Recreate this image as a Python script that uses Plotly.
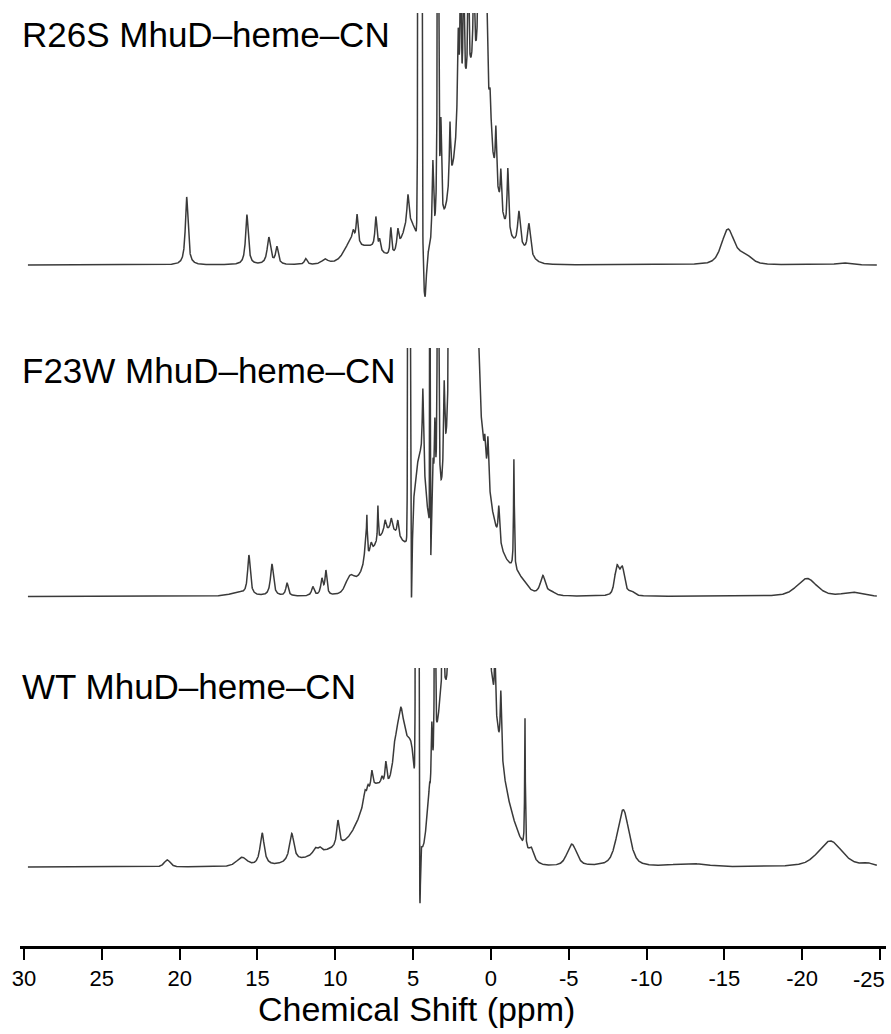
import numpy as np
import plotly.graph_objects as go

# ---------------------------------------------------------------------------
# 1H NMR spectra of the cyanide adducts.  Each spectrum is stored as its list
# of resolved resonances: centre (ppm), height (a.u., baseline = 0),
# full width at half height (ppm) and line shape
# ('L' Lorentzian, 'G' Gaussian envelope, 'V' pseudo-Voigt).
# ---------------------------------------------------------------------------

ppm_start, ppm_stop = 29.75, -24.8

r26s_center = [1.15, 8.0, 9.1, 5.2, -1.8,
               19.55, 15.68, 14.27, 13.75, 11.9, 10.67, 8.85, 8.6, 7.39, 7.15,
               6.43, 5.98, 5.33, 4.56, 4.24, 3.73, 3.4, 3.21, 2.63, 2.1,
               1.95, 1.75, 1.45, 1.1, 0.8, 0.55, 0.3, 0.05, -0.32, -0.64,
               -1.09, -1.8, -2.44, -15.23, -16.3, -22.6]
r26s_height = [185, 18, 10, 40, 12,
               68, 50, 27, 17, 6, 5, 12, 30, 32, 10,
               28, 20, 30, 2500, -45, 85, 800, 95, 65, 95,
               150, 150, 120, 100, 100, 150, 120, 40, 55, 40,
               65, 35, 32, 35, 9, 2]
r26s_fwhm = [2.55, 2.5, 0.8, 1.2, 1.5,
             0.2, 0.2, 0.25, 0.2, 0.2, 0.5, 0.2, 0.15, 0.15, 0.12,
             0.12, 0.15, 0.15, 0.15, 0.2, 0.12, 0.06, 0.1, 0.1, 0.12,
             0.08, 0.08, 0.08, 0.1, 0.1, 0.3, 0.15, 0.15, 0.1, 0.1,
             0.12, 0.2, 0.22, 0.95, 1.0, 1.0]
r26s_shape = ['G', 'G', 'G', 'G', 'G',
              'L', 'L', 'L', 'L', 'L', 'L', 'L', 'L', 'L', 'L',
              'L', 'L', 'L', 'G', 'G', 'L', 'L', 'L', 'L', 'L',
              'L', 'L', 'L', 'L', 'L', 'L', 'L', 'L', 'L', 'L',
              'L', 'L', 'L', 'V', 'V', 'V']

f23w_center = [1.6, -0.9, -1.8, 6.5, 9.06, 4.55, 5.26, 5.11, 3.92, 3.86,
               16.3, 15.55, 14.07, 13.1, 11.44, 10.86, 10.6, 8.05, 7.97, 7.7,
               7.26, 6.8, 6.4, 5.98, 4.37, 3.72, 3.6, 3.4, 3.0, 2.63,
               2.3, 1.9, 1.2, 0.85, 0.39, 0.19, -0.51, -1.48, -3.34, -3.9,
               -8.1, -8.45, -9.0, -20.3, -23.2]
f23w_height = [230, 18, 10, 65, 12, 110, 2500, -82, 1000, -36,
               4, 40, 32, 13, 9, 16, 24, 20, 35, 10,
               35, 12, 12, 15, 80, 60, 90, 800, 90, 500,
               100, 100, 100, 80, 20, 45, 35, 110, 20, 3,
               28, 26, 4, 18, 4]
f23w_fwhm = [2.6, 1.8, 1.2, 3.0, 0.6, 0.9, 0.1, 0.12, 0.03, 0.06,
             1.0, 0.2, 0.22, 0.18, 0.2, 0.18, 0.15, 0.2, 0.06, 0.15,
             0.06, 0.15, 0.15, 0.12, 0.1, 0.12, 0.1, 0.06, 0.1, 0.1,
             0.3, 0.3, 0.3, 0.2, 0.08, 0.1, 0.12, 0.06, 0.4, 0.5,
             0.35, 0.35, 0.5, 1.5, 1.2]
f23w_shape = ['G', 'G', 'G', 'G', 'G', 'G', 'G', 'G', 'G', 'G',
              'L', 'L', 'L', 'L', 'L', 'L', 'L', 'L', 'L', 'L',
              'L', 'L', 'L', 'L', 'L', 'L', 'L', 'L', 'L', 'L',
              'L', 'L', 'L', 'L', 'L', 'L', 'L', 'L', 'L', 'L',
              'V', 'V', 'V', 'V', 'V']

wt_center = [1.0, -1.5, 7.2, 9.5, 5.75, 5.05, 3.2, 4.74, 4.56, -12.8,
             20.8, 16.0, 14.7, 12.8, 11.3, 11.0, 9.83, 8.1, 7.9, 7.65,
             7.0, 6.75, 6.17, 5.78, 4.1, 3.95, 3.8, 3.6, 3.08, 2.76,
             2.4, 1.8, 1.0, 0.3, -0.26, -0.64, -2.19, -2.6, -5.2, -8.5,
             -21.8, -24.2]
wt_height = [260, 15, 72, 18, 115, 75, 110, 2500, -66, 3,
             7, 9, 33, 29, 6, 5, 26, 12, 8, 18,
             8, 25, 8, 12, 20, 25, 70, 400, 300, 30,
             100, 80, 50, 60, 60, 65, 130, 12, 22, 57,
             26, 2.5]
wt_fwhm = [2.8, 1.5, 2.4, 4.5, 1.0, 0.6, 1.0, 0.12, 0.07, 2.5,
           0.45, 0.8, 0.32, 0.35, 0.3, 0.3, 0.2, 0.2, 0.15, 0.15,
           0.15, 0.15, 0.12, 0.3, 0.3, 0.12, 0.1, 0.05, 0.05, 0.1,
           0.4, 0.5, 0.5, 0.3, 0.08, 0.1, 0.05, 0.4, 0.72, 0.9,
           1.8, 0.8]
wt_shape = ['G', 'G', 'G', 'G', 'G', 'G', 'G', 'G', 'G', 'G',
            'V', 'V', 'L', 'L', 'L', 'L', 'L', 'L', 'L', 'L',
            'L', 'L', 'L', 'L', 'L', 'L', 'L', 'L', 'L', 'L',
            'L', 'L', 'L', 'L', 'L', 'L', 'L', 'L', 'V', 'V',
            'V', 'V']

sample_names = ['R26S MhuD\u2013heme\u2013CN',
                'F23W MhuD\u2013heme\u2013CN',
                'WT MhuD\u2013heme\u2013CN']

tick_ppm = [30, 25, 20, 15, 10, 5, 0, -5, -10, -15, -20, -25]
tick_labels = ['30', '25', '20', '15', '10', '5', '0',
               '-5', '-10', '-15', '-20', '-25']


def line_shape(ppm, centre, height, fwhm, kind):
    d2 = ((ppm - centre) / (fwhm / 2.0)) ** 2
    lor = 1.0 / (1.0 + d2)
    gau = np.exp(-np.log(2.0) * d2)
    if kind == 'L':
        return height * lor
    if kind == 'G':
        return height * gau
    return height * (0.5 * lor + 0.5 * gau)


def spectrum(ppm, centres, heights, widths, shapes):
    total = np.zeros_like(ppm)
    for c, h, w, k in zip(centres, heights, widths, shapes):
        total += line_shape(ppm, c, h, w, k)
    return total


ppm = np.linspace(ppm_start, ppm_stop, 12000)
spectra = [
    spectrum(ppm, r26s_center, r26s_height, r26s_fwhm, r26s_shape),
    spectrum(ppm, f23w_center, f23w_height, f23w_fwhm, f23w_shape),
    spectrum(ppm, wt_center, wt_height, wt_fwhm, wt_shape),
]

font_family = 'Liberation Sans, Arial, Helvetica, sans-serif'
line_color = '#3a3a3a'
tick_font = dict(family=font_family, size=22, color='black')

fig = go.Figure()
for i, y in enumerate(spectra):
    fig.add_trace(go.Scatter(
        x=ppm, y=y, mode='lines',
        xaxis='x', yaxis='y' if i == 0 else 'y%d' % (i + 1),
        line=dict(color=line_color, width=1.5),
        hoverinfo='skip', showlegend=False,
    ))

hidden_y = dict(visible=False, showgrid=False, zeroline=False,
                anchor='x', fixedrange=True)

# the outermost label would run past the right edge, so it is drawn
# separately and nudged inwards
edge_label = tick_labels[-1]
tick_text = tick_labels[:-1] + ['']

fig.update_layout(
    width=891, height=1034,
    margin=dict(l=20, r=5, t=0, b=88),
    paper_bgcolor='white', plot_bgcolor='white',
    showlegend=False,
    xaxis=dict(
        range=[30.26, -25.39], domain=[0, 1], anchor='y3',
        tickmode='array', tickvals=tick_ppm, ticktext=tick_text,
        ticks='outside', ticklen=11, tickwidth=2, tickcolor='black',
        showline=True, linewidth=2.5, linecolor='black',
        showgrid=False, zeroline=False, automargin=False,
        tickfont=tick_font,
    ),
    yaxis=dict(domain=[0.67230, 0.98626], range=[-45, 252], **hidden_y),
    yaxis2=dict(domain=[0.34461, 0.63214], range=[-23.5, 248.5], **hidden_y),
    yaxis3=dict(domain=[0.0, 0.29387], range=[-79, 199], **hidden_y),
)

fig.add_annotation(
    text=edge_label, xref='x', yref='paper', x=tick_ppm[-1], y=0,
    xanchor='center', yanchor='middle', xshift=-11, yshift=-33,
    showarrow=False, font=tick_font,
)

label_y = [0.964, 0.608, 0.274]
for name, yy in zip(sample_names, label_y):
    fig.add_annotation(
        text=name, xref='paper', yref='paper', x=0.0, y=yy,
        xanchor='left', yanchor='middle', showarrow=False,
        font=dict(family=font_family, size=35, color='black'),
    )

fig.add_annotation(
    text='Chemical Shift (ppm)', xref='paper', yref='paper',
    x=0.458, y=-0.0666, xanchor='center', yanchor='middle', showarrow=False,
    font=dict(family=font_family, size=34, color='black'),
)

fig.write_html('out.html')
